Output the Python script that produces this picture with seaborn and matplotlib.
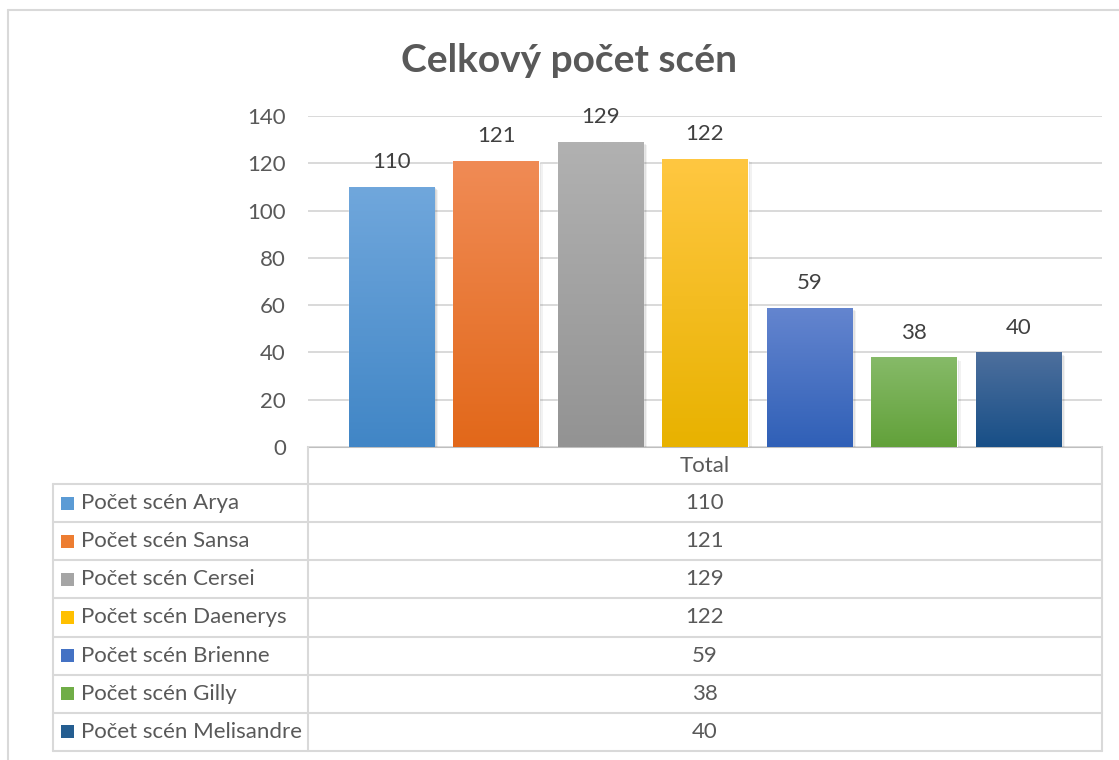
import numpy as np
import pandas as pd
import matplotlib
matplotlib.use("Agg")
import matplotlib.pyplot as plt
import matplotlib.colors as mcolors
from matplotlib.patches import Rectangle
import matplotlib.patheffects as pe
import seaborn as sns

# ---------------- data ----------------
title = "Celkový počet scén"
category = "Total"
series = ["Počet scén Arya", "Počet scén Sansa", "Počet scén Cersei",
          "Počet scén Daenerys", "Počet scén Brienne", "Počet scén Gilly",
          "Počet scén Melisandre"]
values = [110, 121, 129, 122, 59, 38, 40]
yticks = [0, 20, 40, 60, 80, 100, 120, 140]

# ---------------- styles ----------------
mid_colors = ["#5b9bd5", "#ed7d31", "#a5a5a5", "#ffc000", "#4472c4", "#70ad47", "#255e91"]
top_colors = ["#70a7dc", "#f08b55", "#b1b1b1", "#ffc741", "#6485cf", "#86ba68", "#4d6f9d"]
bot_colors = ["#4186c6", "#e2681a", "#939393", "#e8b200", "#3060b7", "#62a13a", "#184f87"]

sns.set_style("white")
plt.rcParams["font.family"] = ["Lato", "DejaVu Sans"]
TXT = "#595959"
GRID = "#d9d9d9"
FS = 16

W, H = 1119, 760
fig = plt.figure(figsize=(W / 100, H / 100), dpi=100)

# plot area in pixel coords
px_l, px_r, px_b, px_t = 308, 1102, 447, 116
ax = fig.add_axes([px_l / W, 1 - px_b / H, (px_r - px_l) / W, (px_b - px_t) / H])

df = pd.DataFrame({"series": series, "value": values})
sns.barplot(data=df, x="series", y="value", hue="series", palette=mid_colors,
            legend=False, ax=ax, width=0.815, saturation=1, zorder=3)

ax.set_xlim(-0.8, 6.8)
ax.set_ylim(0, 140)
ax.set_yticks(yticks)
ax.set_xticks([])
ax.set_xlabel("")
ax.set_ylabel("")
ax.yaxis.grid(True, color=GRID, lw=1.4)
ax.set_axisbelow(True)
for s in ax.spines.values():
    s.set_visible(False)
ax.tick_params(axis="y", length=0, pad=16, labelsize=FS, labelcolor=TXT)

# gradients + soft shadow
def grad_img(top, bot, n=64):
    t = np.array(mcolors.to_rgb(top))
    b = np.array(mcolors.to_rgb(bot))
    f = np.linspace(0, 1, n)[:, None]
    return (t * (1 - f) + b * f)[:, None, :]

for i, patch in enumerate(ax.patches):
    x0, w, h = patch.get_x(), patch.get_width(), patch.get_height()
    patch.set_path_effects([
        pe.SimplePatchShadow(offset=(3, -2.5), alpha=0.05, shadow_rgbFace="#000000"),
        pe.SimplePatchShadow(offset=(2, -1.7), alpha=0.07, shadow_rgbFace="#000000"),
        pe.SimplePatchShadow(offset=(1, -0.9), alpha=0.09, shadow_rgbFace="#000000"),
        pe.Normal()])
    img = ax.imshow(grad_img(top_colors[i], bot_colors[i]), extent=[x0, x0 + w, 0, h],
                    aspect="auto", origin="upper", zorder=4, interpolation="bilinear")
    img.set_clip_path(patch)
ax.set_xlim(-0.8, 6.8)
ax.set_ylim(0, 140)

for cont, v in zip(ax.containers, values):
    ax.bar_label(cont, labels=[str(v)], padding=10.5, fontsize=FS, color="#404040", zorder=6)

# ---------------- frame + data table ----------------
tab = fig.add_axes([0, 0, 1, 1], zorder=-1)
tab.set_xlim(0, W)
tab.set_ylim(H, 0)
tab.axis("off")
lw = 1.5

# outer chart border
tab.plot([8, W], [10, 10], color=GRID, lw=lw)
tab.plot([8, 8], [10, H], color=GRID, lw=lw)

rows = [484 + 38.14 * i for i in range(len(series) + 1)]
tab.plot([px_l, px_r], [px_b, px_b], color="#bfbfbf", lw=lw)
tab.plot([px_l, px_l], [px_b, rows[-1]], color=GRID, lw=lw)
tab.plot([px_r, px_r], [px_b, rows[-1]], color=GRID, lw=lw)
tab.plot([53, 53], [rows[0], rows[-1]], color=GRID, lw=lw)
for y in rows:
    tab.plot([53, px_r], [y, y], color=GRID, lw=lw)

cx = (px_l + px_r) / 2
tab.text(cx, (px_b + rows[0]) / 2, category, ha="center", va="center", fontsize=FS, color=TXT)
for i, (name, v) in enumerate(zip(series, values)):
    yc = (rows[i] + rows[i + 1]) / 2
    key = Rectangle((61, yc - 6.5), 13, 13, color=mid_colors[i], lw=0)
    tab.add_patch(key)
    kimg = tab.imshow(grad_img(top_colors[i], bot_colors[i]), extent=[61, 74, yc + 6.5, yc - 6.5],
                      aspect="auto", origin="upper", interpolation="bilinear")
    kimg.set_clip_path(key)
    tab.text(81, yc, name, ha="left", va="center", fontsize=FS, color=TXT)
    tab.text(cx, yc, str(v), ha="center", va="center", fontsize=FS, color=TXT)
tab.set_xlim(0, W)
tab.set_ylim(H, 0)

fig.text(569 / W, 1 - 61 / H, title, ha="center", va="center", fontsize=28,
         fontweight="bold", color=TXT)

fig.savefig("out.png", dpi=100, facecolor="white")
